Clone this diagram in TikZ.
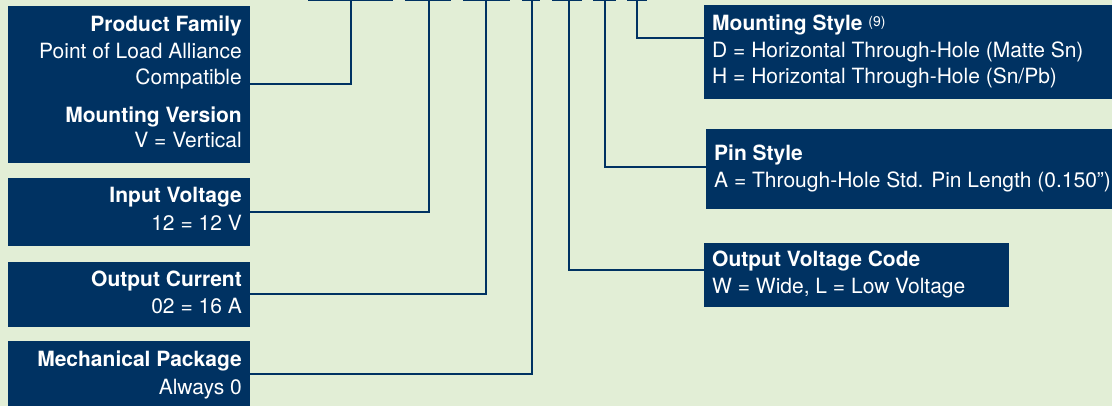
\documentclass[tikz,border=0pt]{standalone}
\usepackage{fontspec}
\setmainfont{TeX Gyre Heros}
\definecolor{navy}{RGB}{0,50,98}
\definecolor{bgc}{RGB}{226,238,214}
\begin{document}
\begin{tikzpicture}[x=1pt,y=-1pt,
  box/.style={fill=navy, draw=none, inner sep=0pt, outer sep=0pt, anchor=north west},
  lbl/.style={text=white, inner sep=0pt, font=\fontsize{21}{25}\selectfont},
  hd/.style={text=white, inner sep=0pt, font=\fontsize{21}{25}\selectfont\bfseries},
  lt/.style={lbl, anchor=base east},
  lth/.style={hd, anchor=base east},
  rt/.style={lbl, anchor=base west},
  rth/.style={hd, anchor=base west},
  wire/.style={draw=navy, line width=2pt},
  bar/.style={draw=navy, line width=2.4pt},
]
\fill[bgc] (0,0) rectangle (1112,406);
\useasboundingbox (0,0) rectangle (1112,406);

% top bars (part number underlines)
\coordinate (t1) at (350.5,0);
\coordinate (t2) at (429,0);
\coordinate (t3) at (485.5,0);
\coordinate (t4) at (531.5,0);
\coordinate (t5) at (568.5,0);
\coordinate (t6) at (605,0);
\coordinate (t7) at (637,0);
\draw[bar] (308,0) -- (393,0);
\draw[bar] (405,0) -- (451,0);
\draw[bar] (463,0) -- (510,0);
\draw[bar] (522,0) -- (540,0);
\draw[bar] (552,0) -- (582,0);
\draw[bar] (593,0) -- (616,0);
\draw[bar] (627,0) -- (647,0);

% left boxes
\node[box, minimum width=242pt, minimum height=157pt] (pf) at (8,6) {};
\node[box, minimum width=242pt, minimum height=68pt] (iv) at (8,178) {};
\node[box, minimum width=242pt, minimum height=65pt] (oc) at (8,262) {};
\node[box, minimum width=242pt, minimum height=65pt] (mp) at (8,341) {};

% right boxes
\node[box, minimum width=420pt, minimum height=94pt] (ms) at (704,5) {};
\node[box, minimum width=420pt, minimum height=80pt] (ps) at (706,129) {};
\node[box, minimum width=305pt, minimum height=64pt] (ov) at (704,243) {};

% left texts
\node[lth] (pf1) at (242,32) {Product Family};
\node[lt]  (pf2) at (242,59) {Point of Load Alliance};
\node[lt]  (pf3) at (242,85) {Compatible};
\node[lth] (pf4) at (242,123) {Mounting Version};
\node[lt]  (pf5) at (242,148) {V = Vertical};

\node[lth] (iv1) at (242,203) {Input Voltage};
\node[lt]  (iv2) at (242,231) {12 = 12 V};

\node[lth] (oc1) at (242,286.5) {Output Current};
\node[lt]  (oc2) at (242,313) {02 = 16 A};

\node[lth] (mp1) at (242,366.5) {Mechanical Package};
\node[lt]  (mp2) at (242,394) {Always 0};

% right texts
\node[rth] (ms1) at (712,31) {Mounting Style \raisebox{4.5pt}{\fontsize{14}{14}\selectfont\mdseries(9)}};
\node[rt]  (ms2) at (712,58) {D = Horizontal Through-Hole (Matte Sn)};
\node[rt]  (ms3) at (712,84) {H = Horizontal Through-Hole (Sn/Pb)};

\node[rth] (ps1) at (714,160.5) {Pin Style};
\node[rt]  (ps2) at (714,188) {A = Through-Hole Std. Pin Length (0.150”)};

\node[rth] (ov1) at (712,266.5) {Output Voltage Code};
\node[rt]  (ov2) at (712,294) {W = Wide, L = Low Voltage};

% connectors
\path (ms.north west) ++(0,33) coordinate (msin);
\path (ps.north west) ++(0,38) coordinate (psin);
\path (ov.north west) ++(0,27) coordinate (ovin);
\draw[wire] (t1) |- (pf.east);
\draw[wire] (t2) |- (iv.east);
\draw[wire] (t3) |- (oc.east);
\draw[wire] (t4) |- (mp.east);
\draw[wire] (t5) |- (ovin);
\draw[wire] (t6) |- (psin);
\draw[wire] (t7) |- (msin);
\end{tikzpicture}
\end{document}
